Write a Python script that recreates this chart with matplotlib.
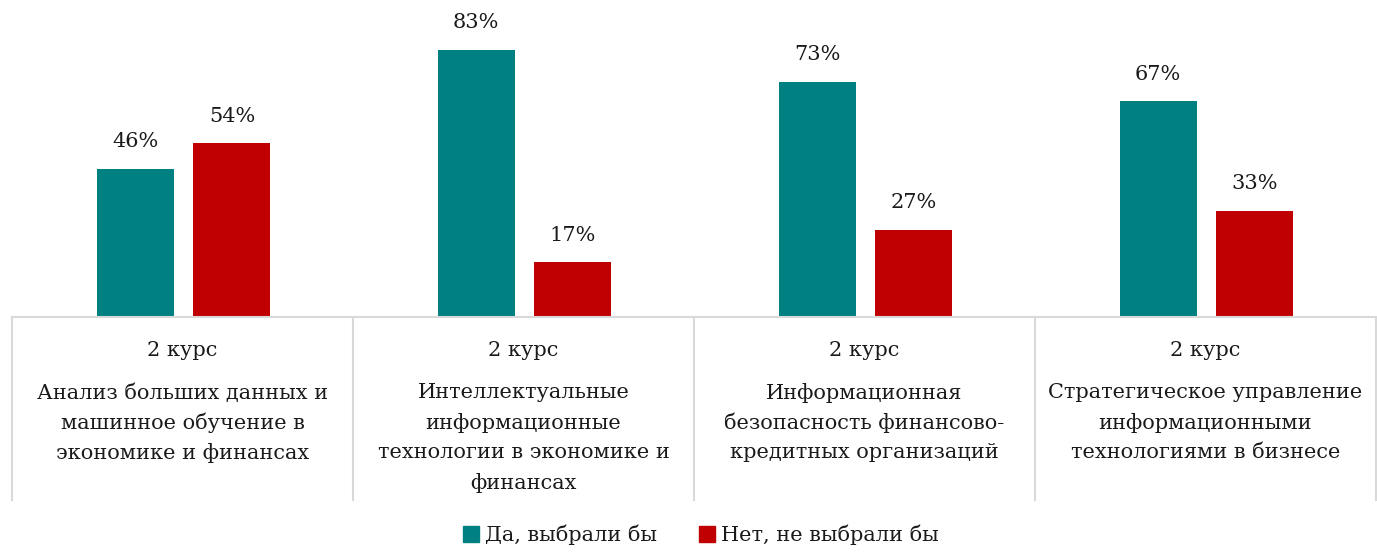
import matplotlib
matplotlib.use("Agg")
import matplotlib.pyplot as plt
from matplotlib.patches import Patch

course = ["2 курс", "2 курс", "2 курс", "2 курс"]
programs = [
    "Анализ больших данных и\nмашинное обучение в\nэкономике и финансах",
    "Интеллектуальные\nинформационные\nтехнологии в экономике и\nфинансах",
    "Информационная\nбезопасность финансово-\nкредитных организаций",
    "Стратегическое управление\nинформационными\nтехнологиями в бизнесе",
]
yes_vals = [46, 83, 73, 67]
no_vals = [54, 17, 27, 33]
series_names = ["Да, выбрали бы", "Нет, не выбрали бы"]
colors = ["#008080", "#C00000"]

plt.rcParams['font.family'] = ['DejaVu Serif']
W, H = 1377, 552
fig = plt.figure(figsize=(W / 100, H / 100), dpi=100)
ax_left, ax_right, base_y = 12, 1376, 317
ax = fig.add_axes([ax_left / W, 1 - base_y / H, (ax_right - ax_left) / W, base_y / H])
ax.set_xlim(0, len(programs))
ax.set_ylim(0, base_y / 3.22)
ax.axis('off')

off, bw = 0.142, 0.226
fs = 15
tc = '#1a1a1a'
for i in range(len(programs)):
    cx = i + 0.5
    for v, dx, c in ((yes_vals[i], -off, colors[0]), (no_vals[i], off, colors[1])):
        ax.bar(cx + dx + 0.003, v, width=bw, color=c, zorder=2)
        ax.annotate(f"{v}%", (cx + dx + 0.003, v), xytext=(0, 19.5), textcoords='offset points',
                    ha='center', va='center', fontsize=fs, color=tc)

# category axis (table-like)
line_c = "#D9D9D9"
trans = ax.get_xaxis_transform()
ax.plot([0, len(programs)], [0, 0], transform=trans, color=line_c, lw=1.5, clip_on=False, zorder=3)
sep_bottom = -(500 - base_y) / base_y
for k in range(len(programs) + 1):
    ax.plot([k, k], [0, sep_bottom], transform=trans, color=line_c, lw=1.5, clip_on=False)
for i in range(len(programs)):
    ax.text(i + 0.5, -(350 - base_y) / base_y, course[i], transform=trans, ha='center', va='center',
            fontsize=fs, color=tc)
    for j, line in enumerate(programs[i].split("\n")):
        ax.text(i + 0.5, -(393 + 30 * j - base_y) / base_y, line, transform=trans,
                ha='center', va='center', fontsize=fs, color=tc)

handles = [Patch(color=colors[0]), Patch(color=colors[1])]
fig.legend(handles, series_names, loc='center', bbox_to_anchor=(701 / W, 1 - 535 / H), ncol=2,
           frameon=False, fontsize=fs, handlelength=0.75, handleheight=0.75, handletextpad=0.3,
           columnspacing=2.0, labelcolor=tc)

fig.savefig("out.png", dpi=100)
